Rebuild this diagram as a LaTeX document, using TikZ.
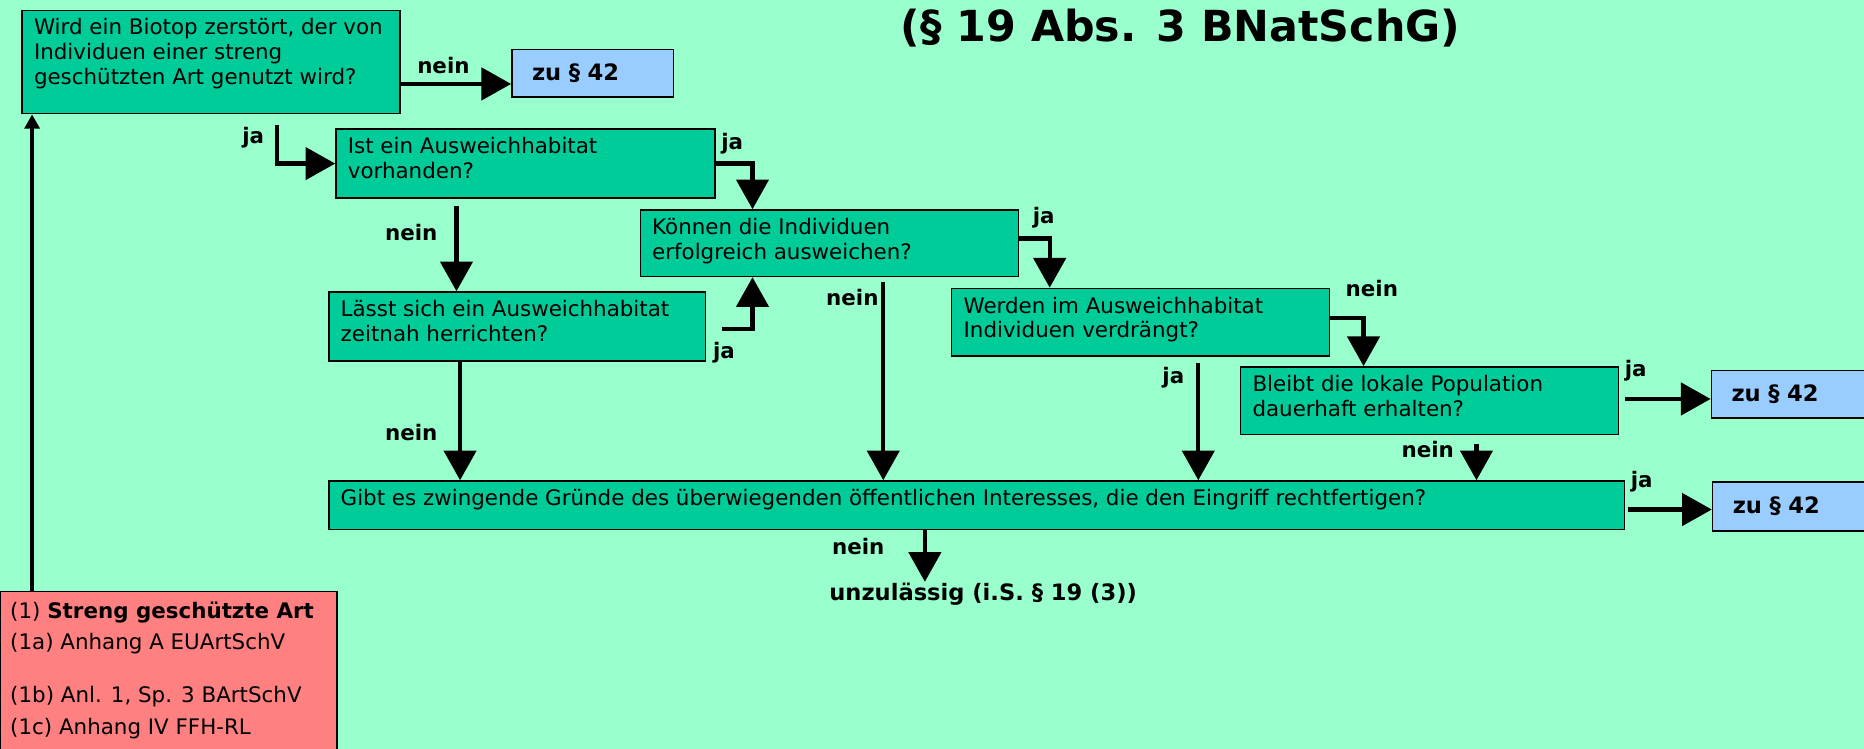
\documentclass[tikz,border=0pt]{standalone}
\usepackage{fontspec}
\setmainfont{DejaVu Sans}
\usetikzlibrary{arrows.meta}

\definecolor{bggreen}{RGB}{153,255,204}
\definecolor{qgreen}{RGB}{0,204,153}
\definecolor{refblue}{RGB}{153,204,255}
\definecolor{artred}{RGB}{255,128,128}

% text block of fixed size, lines set as given
\newcommand{\qtext}[3]{\parbox[c][#2][t]{#1}{\begin{tabular}[t]{@{}l@{}}#3\end{tabular}}}

\tikzset{
    question/.style={draw, line width=1.2pt, fill=qgreen, anchor=north west,
        inner xsep=10pt, inner ysep=6pt, font=\fontsize{18}{21}\selectfont},
    refbox/.style={draw, line width=1.2pt, fill=refblue, anchor=north west, align=left,
        inner xsep=17pt, minimum height=40pt, font=\bfseries\fontsize{19}{22}\selectfont},
    artbox/.style={draw, line width=1.2pt, fill=artred, anchor=north west,
        inner xsep=8pt, inner ysep=4pt, font=\fontsize{18}{26.5}\selectfont},
    answer/.style={inner sep=1pt, font=\bfseries\fontsize{18}{21}\selectfont},
    flow/.style={line width=3.6pt, -{Triangle[length=25pt,width=27pt]}},
    upflow/.style={line width=3pt, -{Triangle[length=12pt,width=12.5pt]}},
}

\begin{document}
\begin{tikzpicture}[x=1pt, y=-1pt]

    % the frame
    \useasboundingbox (0,0) rectangle (1568,630);
    \fill[bggreen] (0,0) rectangle (1568,630);

    % the title
    \node[font=\bfseries\fontsize{36}{40}\selectfont] (title) at (993,24) {(§ 19 Abs. 3 BNatSchG)};

    % the questions
    \node[question] (biotop) at (18,8) {\qtext{298pt}{75pt}{Wird ein Biotop zerstört, der von\\Individuen einer streng\\geschützten Art genutzt wird?}};
    \node[question] (ausw) at (282,108) {\qtext{299pt}{46pt}{Ist ein Ausweichhabitat\\vorhanden?}};
    \node[question] (koennen) at (538,176) {\qtext{298pt}{44pt}{Können die Individuen\\erfolgreich ausweichen?}};
    \node[question] (herr) at (276,245) {\qtext{297pt}{46pt}{Lässt sich ein Ausweichhabitat\\zeitnah herrichten?}};
    \node[question] (verdr) at (800,242) {\qtext{298pt}{45pt}{Werden im Ausweichhabitat\\Individuen verdrängt?}};
    \node[question] (bleibt) at (1043,308) {\qtext{298pt}{45pt}{Bleibt die lokale Population\\dauerhaft erhalten?}};
    \node[question] (gruende) at (276,404) {\qtext{1070pt}{29pt}{Gibt es zwingende Gründe des überwiegenden öffentlichen Interesses, die den Eingriff rechtfertigen?}};

    % the results
    \node[refbox, text width=102pt] (zu42a) at (430,41) {zu § 42};
    \node[refbox, text width=130pt] (zu42b) at (1439,311) {zu § 42};
    \node[refbox, text width=130pt, minimum height=41pt] (zu42c) at (1440,405) {zu § 42};
    \node[answer, font=\bfseries\fontsize{19}{22}\selectfont] (unzul) at (827,500) {unzulässig (i.S. § 19 (3))};

    % the species
    \node[artbox] (art) at (0,497) {\qtext{267pt}{131pt}{(1) \textbf{Streng geschützte Art}\\(1a) Anhang A EUArtSchV\\[18pt](1b) Anl. 1, Sp. 3 BArtSchV\\(1c) Anhang IV FFH-RL}};

    % the flow
    \draw[upflow] ([xshift=27pt]art.north west) coordinate (r1) -- (r1 |- biotop.south);
    \draw[flow] ([yshift=-18.5pt]biotop.east) coordinate (b1) -- (b1 -| zu42a.west);
    \draw[flow] ([xshift=215pt, yshift=-9pt]biotop.south west) |- (ausw.west);
    \draw[flow] (ausw.east) -| ([xshift=95pt]koennen.north west);
    \draw[flow] ([xshift=102pt, yshift=-6pt]ausw.south west) coordinate (a1) -- (a1 |- herr.north);
    \draw[flow] ([xshift=13pt, yshift=-2pt]herr.east) -| ([xshift=95pt]koennen.south west);
    \draw[flow] ([yshift=4pt]koennen.east) -| ([xshift=83pt]verdr.north west);
    \draw[flow] ([xshift=205pt, yshift=-4pt]koennen.south west) coordinate (k1) -- (k1 |- gruende.north);
    \draw[flow] ([xshift=111pt]herr.south west) coordinate (h1) -- (h1 |- gruende.north);
    \draw[flow] ([yshift=3.5pt]verdr.east) -| ([xshift=104pt]bleibt.north west);
    \draw[flow] ([xshift=208pt, yshift=-5pt]verdr.south west) coordinate (v1) -- (v1 |- gruende.north);
    \draw[flow] ([xshift=5pt, yshift=1.5pt]bleibt.east) coordinate (c1) -- (c1 -| zu42b.west);
    \draw[flow] ([xshift=199pt, yshift=-7pt]bleibt.south west) coordinate (c2) -- (c2 |- gruende.north);
    \draw[flow] ([xshift=2pt, yshift=-3.5pt]gruende.east) coordinate (g1) -- (g1 -| zu42c.west);
    \draw[flow] ([xshift=502pt]gruende.south west) coordinate (g2) -- (g2 |- unzul.north);

    % the answers
    \node[answer] (nein1) at (373,55) {nein};
    \node[answer] (ja1) at (213,116) {ja};
    \node[answer] (ja2) at (616,121) {ja};
    \node[answer] (nein2) at (346,196) {nein};
    \node[answer] (ja3) at (609,297) {ja};
    \node[answer] (ja4) at (878,183) {ja};
    \node[answer] (nein3) at (717,250) {nein};
    \node[answer] (nein4) at (346,364) {nein};
    \node[answer] (nein5) at (1154,243) {nein};
    \node[answer] (ja5) at (987,318) {ja};
    \node[answer] (ja6) at (1376,312) {ja};
    \node[answer] (nein6) at (1201,378) {nein};
    \node[answer] (ja7) at (1381,405) {ja};
    \node[answer] (nein7) at (722,460) {nein};

\end{tikzpicture}
\end{document}
